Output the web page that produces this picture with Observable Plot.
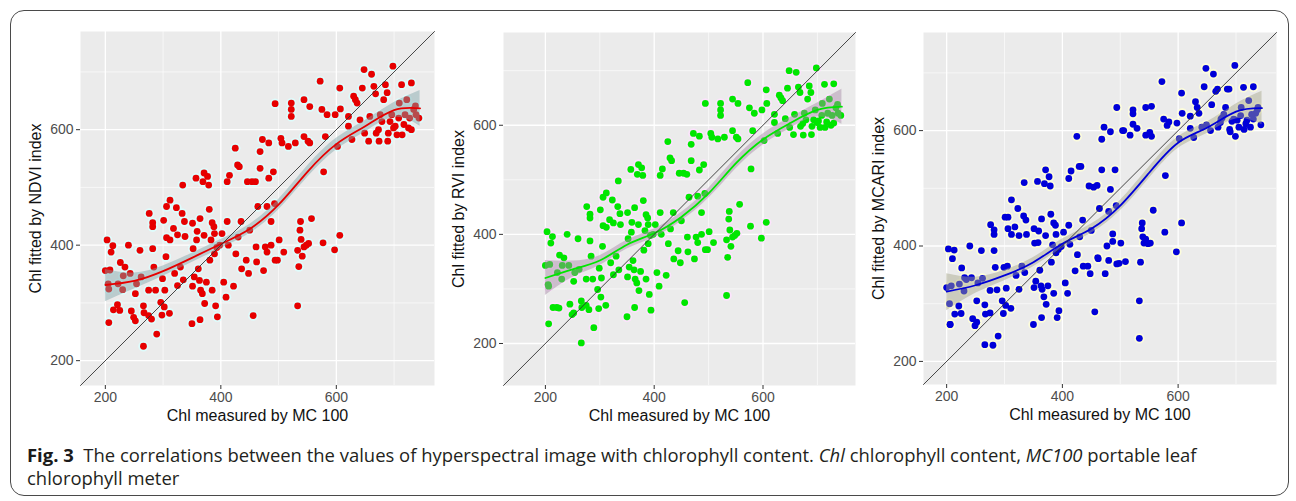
<!DOCTYPE html>
<html>
<head>
<meta charset="utf-8">
<script src="https://cdn.jsdelivr.net/npm/d3@7"></script>
<script src="https://cdn.jsdelivr.net/npm/@observablehq/plot@0.6"></script>
<style>
  html, body { margin: 0; padding: 0; background: #fff; }
  #wrap { position: relative; width: 1296px; height: 501px; overflow: hidden; }
  #border { position: absolute; left: 10px; top: 10px; width: 1279px; height: 486px;
            border: 1px solid #4a4a4a; border-radius: 14px; box-sizing: border-box; }
  .panel { position: absolute; top: 20px; }
  #caption { position: absolute; left: 27px; top: 443px; width: 1260px; white-space: nowrap;
             font-family: "Open Sans", "Noto Sans", sans-serif;
             font-size: 16px; line-height: 23px; color: #231f20; }
  #caption b { color: #1a1a1a; }
</style>
</head>
<body>
<div id="wrap">
  <div id="border"></div>
  <div id="p1" class="panel" style="left:20px"></div>
  <div id="p2" class="panel" style="left:443px"></div>
  <div id="p3" class="panel" style="left:863px"></div>
  <div id="caption"><span id="line1"><b>Fig. 3</b>&nbsp; The correlations between the values of hyperspectral image with chlorophyll content. <i>Chl</i> chlorophyll content, <i>MC100</i> portable leaf</span><br>chlorophyll meter</div>
</div>
<script>
// ---- data ----
const chlMeasured = [
  200,208,203,213,210,205,206,206,214,221,222,225,226,234,231,230,240,243,245,249,252,252,254,260,262,
  266,266,267,275,275,280,276,282,282,282,284,287,289,296,298,301,299,302,303,305,306,306,312,312,311,
  318,320,323,325,325,330,333,334,337,335,338,
  350,351,352,351,354,357,358,359,361,363,364,364,365,368,371,369,371,372,375,377,379,380,381,383,385,
  385,388,389,389,391,394,393,
  398,402,405,409,411,411,413,415,422,425,426,429,430,432,435,436,444,446,448,450,454,456,460,461,462,464,
  468,468,472,474,477,480,480,483,483,487,487,491,493,494,494,498,501,504,506,509,517,522,522,522,529,
  533,533,535,537,538,539,541,544,544,544,548,551,552,554,554,557,
  572,575,577,578,581,584,597,598,602,606,607,606,
  621,621,627,630,633,636,641,645,648,649,656,658,661,665,668,669,673,674,676,679,682,685,688,689,690,
  693,696,698,699,702,705,708,709,713,714,717,719,722,725,727,730,730,734,737,738,743
];
const ndviFitted = [
  356,357,409,399,388,333,324,266,288,297,333,287,370,362,347,323,400,351,286,275,316,269,333,391,345,
  225,295,283,278,322,272,455,439,432,394,362,322,246,301,279,443,342,293,322,380,467,413,409,478,282,
  429,351,465,330,418,362,455,504,441,340,415,
  264,438,394,329,345,516,409,424,359,339,446,271,322,316,525,510,417,299,336,519,504,462,374,409,439,
  322,432,420,385,295,276,396,
  400,420,336,310,441,510,400,521,329,568,385,539,414,536,441,359,374,510,351,426,510,278,510,397,371,467,
  562,533,583,356,397,467,388,577,516,400,441,527,472,645,374,374,409,585,577,388,571,646,635,623,577,
  295,391,363,426,441,410,381,652,588,397,400,580,403,640,577,446,
  684,635,404,527,588,626,392,626,571,672,636,417,
  623,606,583,658,652,646,617,672,704,594,580,623,696,675,662,594,600,580,626,614,652,678,664,580,594,
  614,626,710,603,606,591,620,646,678,591,609,626,652,603,620,600,681,635,641,626,620
];
const rviFitted = [
  343,345,405,396,384,308,305,236,266,266,330,265,362,357,343,318,400,343,272,253,314,256,330,392,336,
  201,278,266,270,318,262,451,437,430,388,360,318,229,299,264,445,338,285,320,378,468,416,413,476,270,
  427,348,463,326,421,360,451,498,438,335,418,
  249,440,392,322,340,519,404,422,352,335,449,266,318,311,528,510,418,297,332,522,508,462,371,407,436,
  318,430,418,383,290,261,398,
  400,418,330,305,440,508,400,520,325,570,383,540,410,535,440,355,370,512,348,425,512,275,510,395,368,468,
  565,535,585,355,395,470,385,580,518,400,440,528,475,640,372,372,405,585,578,385,575,640,628,618,578,
  288,390,358,428,442,408,378,648,590,395,398,578,402,640,575,455,
  678,632,415,520,590,622,393,628,572,665,640,422,
  620,605,585,655,650,645,612,668,700,596,583,620,697,670,660,598,603,582,622,610,648,672,660,583,598,
  610,628,705,605,608,596,618,640,675,596,606,622,648,600,618,604,676,632,638,622,618
];
const mcariFitted = [
  328,331,395,393,378,300,264,264,282,296,334,283,362,342,345,322,400,345,274,262,305,268,336,392,344,
  229,298,282,284,323,228,437,420,428,392,363,324,244,305,283,450,363,297,327,365,450,430,420,480,292,
  433,349,465,325,418,365,452,510,445,354,420,
  264,430,405,328,339,512,406,426,358,331,447,276,325,312,532,508,418,299,331,520,504,455,372,402,440,
  318,436,420,388,276,288,394,
  399,424,336,318,436,517,403,530,357,590,385,538,416,538,445,365,365,504,352,427,502,286,505,380,378,465,
  585,532,606,352,400,460,375,598,498,421,408,532,470,640,369,370,405,600,600,373,592,636,629,611,604,
  240,305,372,430,440,416,405,640,592,412,404,597,405,642,590,462,
  685,620,424,522,609,615,390,613,586,665,630,440,
  604,625,588,650,640,630,606,676,708,610,600,645,698,668,672,606,614,620,622,628,640,672,672,602,598,
  616,620,713,590,618,606,626,640,675,602,612,618,652,606,628,620,676,630,636,640,610
];
// smooth (loess) fit and its confidence band, read at these x values
const smoothX   = [200,250,300,350,400,450,500,550,600,650,700,745];
const ndviFit   = [331,338,355,378,402,428,470,527,575,606,634,637];
const ndviLo    = [302,324,346,370,394,420,461,517,565,596,621,606];
const ndviHi    = [358,352,364,386,410,436,479,537,585,616,647,668];
const rviFit    = [320,336,352,381,402,432,475,530,574,604,628,634];
const rviLo     = [288,321,343,373,394,424,466,520,564,594,615,602];
const rviHi     = [352,351,361,389,410,440,484,540,584,614,641,666];
const mcariFit  = [321,332,349,372,404,430,470,527,579,605,633,639];
const mcariLo   = [288,318,340,364,396,422,461,517,569,595,620,610];
const mcariHi   = [352,346,358,380,412,438,479,537,589,615,646,668];
const majorTicks = [200,400,600];
const minorTicks = [300,500,700];
const xTitle = "Chl measured by MC 100";

const panels = [
  {id:"p1", ys:ndviFitted, fit:ndviFit, lo:ndviLo, hi:ndviHi, domain:[157,770],
   color:"#e60000", halo:"#dcffff", band:"#7fa3a8", title:"Chl fitted by NDVI index",
   mL:60, mR:16, mT:11, mB:55},
  {id:"p2", ys:rviFitted, fit:rviFit, lo:rviLo, hi:rviHi, domain:[123,770],
   color:"#00e600", halo:"#ffe2ff", band:"#a488a4", title:"Chl fitted by RVI index",
   mL:60, mR:18, mT:12, mB:55},
  {id:"p3", ys:mcariFitted, fit:mcariFit, lo:mcariLo, hi:mcariHi, domain:[160,770],
   color:"#0000d8", halo:"#ffffd8", band:"#a4a488", title:"Chl fitted by MCARI index",
   mL:60, mR:17, mT:12, mB:56}
];

for (const p of panels) {
  const pts = chlMeasured.map((x, i) => ({x, y: p.ys[i]}));
  const sm = smoothX.map((x, i) => ({x, fit: p.fit[i], lo: p.lo[i], hi: p.hi[i]}));
  const diag = p.domain;
  const chart = Plot.plot({
    width: 430, height: 420,
    marginLeft: p.mL, marginRight: p.mR, marginTop: p.mT, marginBottom: p.mB,
    x: {domain: p.domain, axis: null},
    y: {domain: p.domain, axis: null},
    style: {fontFamily: "'Liberation Sans', Arial, sans-serif", background: "transparent"},
    marks: [
      Plot.frame({fill: "#ebebeb", stroke: null}),
      Plot.gridX(minorTicks, {stroke: "#fff", strokeOpacity: 1, strokeWidth: 0.6}),
      Plot.gridY(minorTicks, {stroke: "#fff", strokeOpacity: 1, strokeWidth: 0.6}),
      Plot.gridX(majorTicks, {stroke: "#fff", strokeOpacity: 1, strokeWidth: 1.3}),
      Plot.gridY(majorTicks, {stroke: "#fff", strokeOpacity: 1, strokeWidth: 1.3}),
      Plot.axisX({ticks: majorTicks, tickSize: 4, tickPadding: 3, stroke: "#333", fill: "#4d4d4d", fontSize: 14, label: null}),
      Plot.axisY({ticks: majorTicks, tickSize: 4, tickPadding: 3, stroke: "#333", fill: "#4d4d4d", fontSize: 14, label: null}),
      Plot.dot(pts, {x: "x", y: "y", r: 5.2, fill: p.halo, fillOpacity: 0.85, stroke: null}),
      Plot.dot(pts, {x: "x", y: "y", r: 3.4, fill: p.color, stroke: null}),
      Plot.areaY(sm, {x: "x", y1: "lo", y2: "hi", fill: p.band, fillOpacity: 0.45, curve: "natural"}),
      Plot.line(sm, {x: "x", y: "fit", stroke: p.color, strokeWidth: 1.8, curve: "natural"}),
      Plot.line(diag, {x: d => d, y: d => d, stroke: "#333", strokeWidth: 0.9}),
      Plot.text([xTitle], {frameAnchor: "bottom", dy: 35, fontSize: 16, fill: "#111"}),
      Plot.text([p.title], {frameAnchor: "left", dx: -45, rotate: -90, textAnchor: "middle", fontSize: 16, fill: "#111"})
    ]
  });
  document.getElementById(p.id).appendChild(chart);
}

// fit the caption's first line to the width it has in the reference (27px → 1197px)
(function fitCaption() {
  const cap = document.getElementById("caption");
  const l1 = document.getElementById("line1");
  const w = l1.getBoundingClientRect().width;
  if (w > 0) {
    const size = 16 * 1170 / w;
    cap.style.fontSize = size.toFixed(2) + "px";
  }
})();
</script>
</body>
</html>
